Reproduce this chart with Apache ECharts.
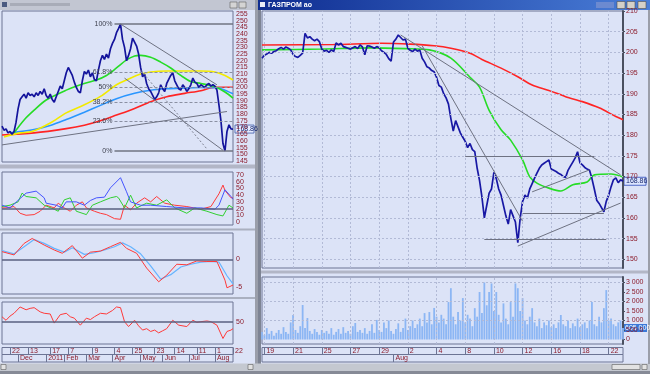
<!DOCTYPE html>
<html><head><meta charset="utf-8">
<script src="https://cdn.jsdelivr.net/npm/echarts@6/dist/echarts.min.js"></script>
<style>html,body{margin:0;padding:0;background:#dce3f7;}#c{width:650px;height:374px;}</style>
</head><body><div id="c"></div>
<script>
// ---------------- LEFT WINDOW DATA (daily, one point per ~2 trading days) ----------------
const leftCats = Array.from({length:116}, (_, i) => 'L' + i);
const leftDayTicks = [4,13,24,33,45,56,65,76,86,97,106,115];
const leftDayLabels = ['22','13','17','7','9','4','25','23','14','11','1','22'];
const leftMonthTicks = [8,22,31,42,55,69,80,93,106];
const leftMonthLabels = ['Dec','2011','Feb','Mar','Apr','May','Jun','Jul','Aug'];
const leftPriceTicksA = [145,155,165,175,185,195,205,215,225,235,245,255];
const leftPriceTicksB = [150,160,170,180,190,200,210,220,230,240,250];
const leftPrice = [171,168,169,166,167,165,167,174,184,191, 193,195,192,196,194,195,193,196,194,197,
  195,199,194,192,195,191,189,193,197,201, 199,205,211,215,212,209,204,200,197,196,
  205,212,210,213,208,211,206,205,213,220, 224,221,225,222,229,233,236,241,244,247.5,
  236,230,220,224,229,237,234,231,225,215, 208,210,203,199,197,194,191,193,196,202,
  199,197,203,206,209,211,205,202,199,198, 202,200,197,199,202,207,204,203,200,202,
  201,200,202,203,201,202,201,198,187,175, 158,152.5,167,172,169,168.86];
const leftMaGreen = [[6,166],[11,175.7],[16,183],[22,190.6],[32,198],[39,202],[47,205.6],[52,209],[57,214.6],[62,220.6],[66,223.6],[69,224],[74,222.6],[79,219],[84,214.6],[89,209],[94,204.4],[99,203],[106,200.5],[111,196.6],[115,192]];
const leftMaYellow = [[1,163],[9,166],[15,167],[24,173.4],[32,181],[41,187],[49,193.3],[57,202],[62,205.6],[69,210],[74,211.6],[82,212.3],[91,212.3],[99,212.3],[106,211.6],[111,209],[115,205.6]];
const leftMaBlue = [[4,166],[16,168.5],[24,171.5],[32,176],[41,181.5],[49,186.6],[57,191.6],[66,195.6],[74,197.9],[82,199],[91,199.6],[99,200],[107,199.8],[111,198],[115,195.3]];
const leftMaRed = [[0,164.4],[16,166],[32,169.2],[41,171.7],[49,175],[57,179.3],[66,184.3],[74,189.4],[82,193.1],[91,195.6],[99,197.6],[106,200.2],[115,200.2]];
const fibLevels = [247.5,211.2,200,188.8,174.9,152.5];
const fibNames = ['100%','61.8%','50%','38.2%','23.6%','0%'];
const fibFrom = 56, fibTo = 115;
const leftTrendLines = [[[0,157],[112,182]],[[59,247.5],[107,202]],[[61,207],[110,153]]];
const leftDottedLines = [[[69,213],[102,154]]];
// panel 2 (ADX / DMI)
const adxTicksA = [0,20,40,60];
const adxTicksB = [10,30,50,70];
const adxBlue = [[0,25],[4,21],[9,35],[12,43],[17,46],[21,36],[22,28],[27,25],[30,21],[32,30],[37,30],[41,25],[44,32],[47,36],[51,37],[54,51],[59,66],[62,45],[64,30],[69,25],[74,25],[82,23],[91,21],[99,21],[106,19],[108,25],[111,48],[114,38],[115,34]];
const adxGreen = [[0,23],[4,25],[8,30],[10,43],[12,38],[17,36],[21,25],[26,19],[28,16],[31,33],[34,36],[37,16],[42,11],[45,25],[49,30],[54,36],[57,38],[58,36],[61,21],[64,40],[67,21],[72,28],[77,25],[82,33],[86,21],[92,13],[96,21],[102,16],[107,11],[110,9],[113,25],[115,21]];
const adxRed = [[0,21],[2,21],[6,23],[9,13],[12,10],[16,11],[19,16],[22,25],[26,21],[28,28],[31,21],[34,16],[37,25],[40,30],[42,21],[46,16],[49,13],[52,11],[56,5],[59,4],[61,25],[64,18],[67,28],[71,36],[74,30],[77,38],[81,28],[86,25],[92,23],[99,19],[104,23],[108,42],[110,55],[111,47],[114,36],[115,36]];
// panel 3 (MACD)
const macdTicks = [-5,0];
const macdRed = [[0,1.4],[6,0.8],[11,2.9],[15,3.8],[21,2.6],[26,1.7],[30,1.1],[35,2.5],[40,0.2],[44,1.3],[49,1.5],[54,2.3],[59,3.1],[62,2.0],[67,1.1],[72,-1.6],[78,-4.1],[82,-2.9],[87,-0.9],[92,-1.0],[97,-0.3],[102,-0.4],[107,-0.4],[111,-3.8],[112,-5.2],[115,-4.7]];
const macdBlue = [[0,1.6],[6,1.0],[11,2.3],[16,3.6],[21,2.9],[26,2.0],[31,1.3],[35,2.1],[41,0.9],[46,1.2],[51,1.7],[56,2.3],[60,3.0],[64,2.3],[69,1.0],[74,-1.2],[79,-3.6],[84,-2.8],[89,-1.4],[94,-0.9],[99,-0.5],[104,-0.4],[108,-0.5],[112,-3.0],[115,-4.5]];
// panel 4 (RSI)
const rsiTicks = [50];
const rsiRed = [[0,57],[2,52],[4,58],[6,62],[9,71],[12,67],[14,69],[16,70],[19,64],[21,62],[24,61],[26,48],[29,60],[32,62],[34,57],[36,55],[39,45],[42,55],[44,53],[46,57],[49,62],[52,61],[55,66],[57,71],[59,70],[61,50],[63,43],[66,52],[68,44],[70,38],[72,40],[74,36],[76,38],[78,34],[80,37],[82,40],[85,52],[88,45],[92,43],[95,52],[97,49],[99,50],[102,51],[104,50],[107,45],[110,26],[112,36],[114,38],[115,40]];

// ---------------- RIGHT WINDOW DATA (intraday, 6 points per day) ----------------
const rightCats = Array.from({length:152}, (_, i) => 'R' + i);
const rightDayTicks = [1,13,25,37,49,61,73,85,97,109,121,133,145];
const rightDayLabels = ['19','21','25','27','29','2','4','8','10','12','16','18','22'];
const rightMonthTicks = [55];
const rightMonthLabels = ['Aug'];
const rightPriceTicks = [150,155,160,165,170,175,180,185,190,195,200,205,210];
const rightPrice = [198.6,199.3,199.6,200,199.8,200.2,200.4,200.9,201.2,200.8,
  201.3,201,200.6,199.5,199,198.8,199.3,199.8,204.6,203.5,
  203.8,203.2,202.8,203.2,202.6,200.8,200.3,200.5,200,200.6,
  200.2,202.3,201.8,202.2,201.4,201.2,201,200.8,201.1,201.4,
  200.9,201.8,201.3,199.4,201.6,201.5,201.3,201,201.4,201.1,
  200.4,200,199.5,198.5,197.9,202.5,203.2,204.2,203.6,203,
  203.2,201,200.5,200.2,200.8,200.3,200.6,198.6,197.7,196.5,
  196.2,195.6,195.3,194,192,191.6,190,189,187.5,184,
  181,183.5,182,180.5,179.5,178.5,177,178,176.5,176,
  172,169,165,160,163,166,167,171,169.5,167,
  165.5,163,160.5,158.5,162,160.5,159,154,160,164,
  165.5,164.8,167,168.3,169.6,170.8,172,172.8,173.2,173.6,
  174,171.8,171.5,171.2,170.8,170.5,170,169.8,171.5,172.5,
  173.5,174.5,176,173.3,172.8,172.2,171.8,171.5,169.5,167,
  164.3,163.5,162.5,161.5,164,165.5,167.5,169.2,169.7,168.5,
  169.2,168.86];
const rightMaRed = [[0,201.8],[30,201.9],[50,202.2],[62,202.0],[72,201.6],[79,201],[87,199.8],[92,198.3],[100,196.2],[107,194.1],[113,192.1],[120,190.8],[127,189.3],[134,188.1],[141,186.6],[148,184.5],[151,183.7]];
const rightMaGreen = [[0,200.6],[25,200.8],[45,201.1],[60,200.9],[70,200.6],[79,198.6],[87,194],[91,191.6],[95,186],[100,181.3],[104,178.8],[109,174],[112,169.9],[115,168.4],[120,167.2],[125,166.5],[130,168],[136,168.7],[139,170.4],[146,170.6],[151,169.9]];
const rightTrendLines = [[[58,204.2],[150,170.4]],[[67,201.6],[109,159.2]],[[85,174.8],[139,174.8]],[[109,161.1],[143,161.1]],[[93,154.9],[144,154.9]],[[107,153.2],[150,163.6]],[[113,166.3],[137,171.6]]];
const volTicks = [0,500,1000,1500,2000,2500,3000];
const rightVolume = [400,250,600,300,450,200,350,500,300,650,
  400,300,900,1290,500,350,700,1815,600,1130,
  450,300,550,400,250,500,350,450,300,600,
  250,400,550,300,650,350,450,300,700,870,
  400,500,350,600,300,450,800,350,1030,500,
  400,900,600,1000,450,300,550,850,400,600,
  1100,500,700,1000,600,800,1100,700,1390,900,
  1445,800,1660,1200,900,1300,1100,800,1970,2700,
  1200,800,1450,1000,2180,900,1300,1100,700,1650,
  1200,2500,1400,3000,1800,2500,2950,1500,2500,1300,
  900,1900,1100,800,1970,1200,2950,2700,1500,2180,
  1000,800,1200,1650,900,700,1100,600,900,750,
  1000,650,800,600,900,1290,800,700,1000,600,
  850,700,1100,650,800,900,600,1000,1970,800,
  700,1200,900,1650,2600,1000,1100,800,700,900,
  1000,605];

// ---------------- BUILD ----------------
const chart = echarts.init(document.getElementById('c'), null, {renderer:'canvas', width:650, height:374});
const LBL = {color:'#8c1c2c', fontSize:7, fontFamily:'Arial'};
const FRAME = '#6c7494';
function grid(l,t,w,h){return {left:l,top:t,width:w,height:h,show:true,borderColor:FRAME,borderWidth:1,backgroundColor:'transparent'};}
const grids = [grid(2,11,231,151), grid(2,172,231,53), grid(2,233,231,61), grid(2,302,231,42),
  grid(2,347.5,231,7), grid(2,354.5,231,7.5),
  grid(262,11,361,257), grid(262,277,361,67), grid(262,347.5,361,7), grid(262,354.5,361,7.5)];
function hiddenX(gi,cats){return {gridIndex:gi,type:'category',data:cats,boundaryGap:false,show:false};}
function labelX(gi,cats,ticks,labels){
  const map = {}; ticks.forEach((t,k)=>map[t]=labels[k]);
  return {gridIndex:gi,type:'category',data:cats,boundaryGap:false,position:'bottom',
    axisLine:{show:false},
    axisTick:{show:true,inside:true,length:7,interval:(i)=>(i in map),lineStyle:{color:FRAME}},
    axisLabel:Object.assign({show:true,inside:true,interval:(i)=>(i in map),formatter:(v,i)=>(map[i]!==undefined?map[i]:''),
      align:'left',verticalAlign:'bottom',margin:0,padding:[0,0,0,2],showMinLabel:true,showMaxLabel:true},LBL),
    splitLine:{show:false}};
}
function hiddenY(gi,min,max){return {gridIndex:gi,type:'value',min:min,max:max,show:false};}
function labelY(gi,min,max,vals,extra){
  return Object.assign({gridIndex:gi,type:'value',min:min,max:max,position:'right',offset:0,splitLine:{show:false},
    axisLine:{show:false},axisTick:{show:false},
    axisLabel:Object.assign({customValues:vals,margin:3,showMinLabel:true,showMaxLabel:true,hideOverlap:false},LBL)}, extra||{});
}
function fmtVol(v){const s=String(Math.round(v*1000));return s.replace(/\B(?=(\d{3})+(?!\d))/g,' ');}
const xAxes = [hiddenX(0,leftCats),hiddenX(1,leftCats),hiddenX(2,leftCats),hiddenX(3,leftCats),
  labelX(4,leftCats,leftDayTicks,leftDayLabels),labelX(5,leftCats,leftMonthTicks,leftMonthLabels),
  hiddenX(6,rightCats),hiddenX(7,rightCats),
  labelX(8,rightCats,rightDayTicks,rightDayLabels),labelX(9,rightCats,rightMonthTicks,rightMonthLabels)];
const yAxes = [
  labelY(0,144.2,257.25,leftPriceTicksA),
  labelY(1,-4.5,74.5,adxTicksA),
  labelY(2,-6.33,4.8,macdTicks),
  labelY(3,18.1,78.1,rsiTicks),
  hiddenY(4,0,1), hiddenY(5,0,1),
  labelY(6,147.9,210,rightPriceTicks,{axisLine:{show:true,lineStyle:{color:'#4a5060',width:2}},
     axisTick:{show:true,customValues:rightPriceTicks,length:2,lineStyle:{color:'#4a5060'}}}),
  labelY(7,-237,3289,volTicks,{axisLine:{show:true,lineStyle:{color:'#4a5060',width:2}},
     axisTick:{show:true,customValues:volTicks,length:2,lineStyle:{color:'#4a5060'}},
     axisLabel:Object.assign({customValues:volTicks,margin:3,formatter:fmtVol,width:22,overflow:'truncate',ellipsis:'',showMinLabel:true,showMaxLabel:true},LBL)}),
  hiddenY(8,0,1), hiddenY(9,0,1),
  // second label rows (alternate ticks) so neighbouring labels are never auto-hidden
  labelY(0,144.2,257.25,leftPriceTicksB),
  labelY(1,-4.5,74.5,adxTicksB)];

function ln(ax,data,color,w,extra){return Object.assign({type:'line',xAxisIndex:ax,yAxisIndex:ax,data:data,symbol:'none',
  lineStyle:{color:color,width:w},itemStyle:{color:color},silent:true,animation:false},extra||{});}
function segs(list,style){return list.map(p=>[{coord:p[0],lineStyle:style,label:{show:false}},{coord:p[1]}]);}
function hline(v,color,w){return {symbol:'none',silent:true,animation:false,label:{show:false},
  lineStyle:{color:color,width:w,type:'solid'},data:[{yAxis:v}]};}

const gridDash = {color:'#b2bad6',width:1,type:[2,2]};
const rightGridMarks = {symbol:'none',silent:true,animation:false,label:{show:false},lineStyle:gridDash,
  data: rightPriceTicks.slice(0,-1).map(v=>({yAxis:v})).concat(rightDayTicks.map(t=>({xAxis:t})))};
const volGridMarks = {symbol:'none',silent:true,animation:false,label:{show:false},lineStyle:gridDash,
  data: [1000,2000,3000].map(v=>({yAxis:v})).concat(rightDayTicks.map(t=>({xAxis:t})))};

const fibMarks = fibLevels.map((v,k)=>{
  const solid = (k===0||k===fibLevels.length-1);
  return [{coord:[fibFrom,v],name:fibNames[k],lineStyle:{color:solid?'#707482':'#8a90a2',width:solid?1.5:1,type:solid?'solid':[3,2]}},{coord:[fibTo,v]}];
});
const leftMarks = {symbol:'none',silent:true,animation:false,
  label:{show:true,position:'start',distance:2,formatter:'{b}',color:'#3c3f4c',fontSize:7,fontFamily:'Arial'},
  data: fibMarks.concat(segs(leftTrendLines,{color:'#6e7282',width:1,type:'solid'}))
     .concat(segs(leftDottedLines,{color:'#7e8292',width:1,type:[2,2]}))};
const rightMarks = {symbol:'none',silent:true,animation:false,label:{show:false},
  data: segs(rightTrendLines,{color:'#6e7282',width:1,type:'solid'})};

const series = [
  ln(0,leftMaRed,'#ff2424',1.6,{smooth:0.3}),
  ln(0,leftMaBlue,'#2a96ff',1.6,{smooth:0.3}),
  ln(0,leftMaYellow,'#f2ea00',1.6,{smooth:0.3}),
  ln(0,leftMaGreen,'#26dc26',1.6,{smooth:0.3}),
  ln(0,leftPrice,'#14149c',1.7),
  ln(0,[[fibFrom,fibLevels[0]]],'#707482',0,{markLine:leftMarks}),
  ln(1,adxRed,'#ff3a3a',1,{markLine:hline(20,'#5a6080',1.5)}),
  ln(1,adxGreen,'#30d030',1),
  ln(1,adxBlue,'#4454ff',1),
  ln(2,macdBlue,'#66b4ff',1.2,{markLine:hline(0,'#5a6080',1.5)}),
  ln(2,macdRed,'#ff3a3a',1),
  ln(3,rsiRed,'#ff3a3a',1,{markLine:hline(50,'#5a6080',1.5)}),
  {type:'bar',xAxisIndex:7,yAxisIndex:7,data:rightVolume,barWidth:1.8,silent:true,animation:false,
    itemStyle:{color:'#8cb6f4'},markLine:volGridMarks},
  ln(6,rightMaRed,'#ff2424',1.6,{smooth:0.3,markLine:rightGridMarks}),
  ln(6,rightMaGreen,'#26dc26',1.6,{smooth:0.3}),
  ln(6,rightPrice,'#1818a4',1.7,{markLine:rightMarks})
];

chart.setOption({backgroundColor:'#dce3f7',animation:false,grid:grids,xAxis:xAxes,yAxis:yAxes,series:series});

// ---------------- CHROME + VALUE BOXES ----------------
const lastL = leftPrice[leftPrice.length-1], lastR = rightPrice[rightPrice.length-1], lastV = rightVolume[rightVolume.length-1];
const pL = chart.convertToPixel({xAxisIndex:0,yAxisIndex:0},[leftCats.length-1,lastL]);
const pR = chart.convertToPixel({xAxisIndex:6,yAxisIndex:6},[rightCats.length-1,lastR]);
const pV = chart.convertToPixel({xAxisIndex:7,yAxisIndex:7},[rightCats.length-1,lastV]);
const F = '7px Arial';
const g = [
  {type:'rect',shape:{x:0,y:0,width:255,height:10},style:{fill:'#c2c6d2'}},
  {type:'rect',shape:{x:2,y:2,width:5,height:5},style:{fill:'#4a5a80'}},
  {type:'rect',shape:{x:10,y:3,width:60,height:3},style:{fill:'#a8acb8'}},
  {type:'rect',shape:{x:230,y:2,width:7,height:6},style:{fill:'#d4d4d4',stroke:'#606060',lineWidth:0.6}},
  {type:'rect',shape:{x:239,y:2,width:7,height:6},style:{fill:'#d4d4d4',stroke:'#606060',lineWidth:0.6}},
  {type:'rect',shape:{x:255,y:0,width:3,height:374},style:{fill:'#9a9eaa'}},
  {type:'rect',shape:{x:258,y:10,width:3,height:354},style:{fill:'#7e8494'}},
  {type:'rect',shape:{x:258,y:0,width:392,height:10},style:{fill:new echarts.graphic.LinearGradient(0,0,1,0,[{offset:0,color:'#0e2c90'},{offset:1,color:'#4a7ed8'}])}},
  {type:'rect',shape:{x:260,y:2,width:5,height:5},style:{fill:'#e8ecf8'}},
  {type:'text',style:{x:268,y:1.5,text:'ГАЗПРОМ ао',fill:'#ffffff',font:'bold 7px Arial'}},
  {type:'rect',shape:{x:596,y:2,width:18,height:6},style:{fill:'#6c8ad0'}},
  {type:'rect',shape:{x:617,y:1.5,width:8,height:7},style:{fill:'#d4d0c8',stroke:'#505050',lineWidth:0.6}},
  {type:'rect',shape:{x:627,y:1.5,width:8,height:7},style:{fill:'#d4d0c8',stroke:'#505050',lineWidth:0.6}},
  {type:'rect',shape:{x:638,y:1.5,width:8,height:7},style:{fill:'#d4d0c8',stroke:'#505050',lineWidth:0.6}},
  {type:'rect',shape:{x:0,y:164.5,width:255,height:4},style:{fill:'#b2b6c6'}},
  {type:'rect',shape:{x:0,y:228.5,width:255,height:2},style:{fill:'#aab0c0'}},
  {type:'rect',shape:{x:0,y:297,width:255,height:2},style:{fill:'#aab0c0'}},
  {type:'rect',shape:{x:261,y:270.5,width:389,height:3},style:{fill:'#b2b6c6'}},
  {type:'rect',shape:{x:0,y:363.5,width:650,height:10.5},style:{fill:'#c4c8d0'}},
  {type:'rect',shape:{x:0,y:371,width:650,height:3},style:{fill:'#868a96'}},
  {type:'rect',shape:{x:1,y:364.5,width:5,height:5},style:{fill:'#e2e2e2',stroke:'#606060',lineWidth:0.6}},
  {type:'rect',shape:{x:248,y:364.5,width:5,height:5},style:{fill:'#e2e2e2',stroke:'#606060',lineWidth:0.6}},
  {type:'rect',shape:{x:612,y:364.5,width:28,height:5},style:{fill:'#e2e2e2',stroke:'#606060',lineWidth:0.6}},
  {type:'rect',shape:{x:642,y:364.5,width:5,height:5},style:{fill:'#e2e2e2',stroke:'#606060',lineWidth:0.6}},
  {type:'rect',shape:{x:648,y:10,width:2,height:354},style:{fill:'#9a9eaa'}},
  {type:'rect',shape:{x:235,y:pL[1]-4,width:19,height:8},style:{fill:'#e6ecff',stroke:'#3a58a8',lineWidth:0.8}},
  {type:'text',style:{x:236.5,y:pL[1]-3.5,text:lastL.toFixed(2),fill:'#1a2a70',font:F}},
  {type:'rect',shape:{x:624,y:pR[1]-4,width:22,height:8},style:{fill:'#dde6ff',stroke:'#2a48b8',lineWidth:0.8}},
  {type:'text',style:{x:626,y:pR[1]-3.5,text:lastR.toFixed(2),fill:'#1a2a70',font:F}},
  {type:'rect',shape:{x:624,y:pV[1]-4,width:23,height:8},style:{fill:'#3a78d8'}},
  {type:'text',style:{x:625,y:pV[1]-3.5,text:fmtVol(lastV),fill:'#ffffff',font:F}}
];
chart.setOption({graphic:g});
</script></body></html>
